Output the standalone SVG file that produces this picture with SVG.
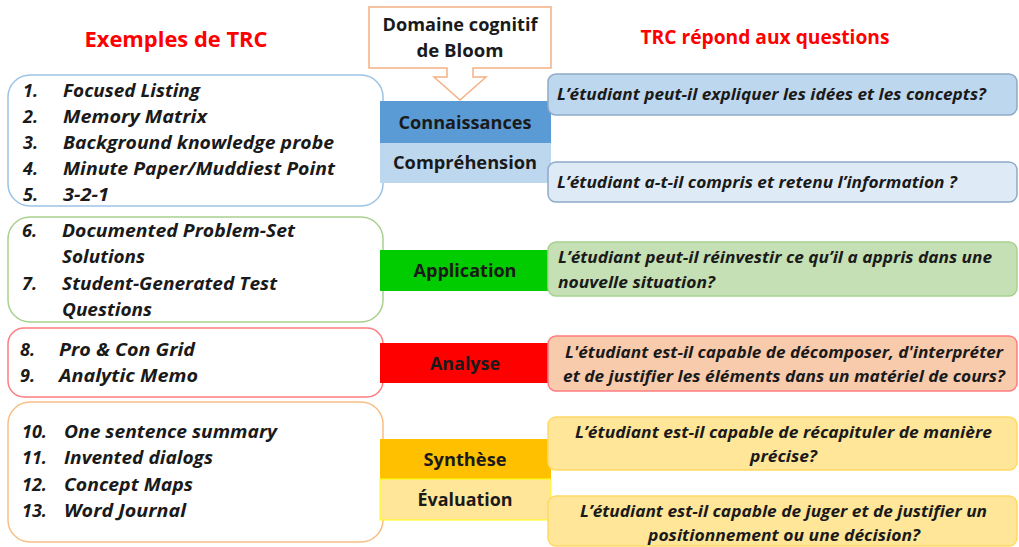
<svg xmlns="http://www.w3.org/2000/svg" width="1019" height="547" viewBox="0 0 1019 547">
<style>
.title{font-family:"Open Sans","Liberation Sans",sans-serif;font-weight:700;fill:#FF0000;text-anchor:middle}
.item{font-family:"Open Sans","Liberation Sans",sans-serif;font-weight:700;font-style:italic;font-size:18px;fill:#1a1a1a}
.bar{font-family:"Open Sans","Liberation Sans",sans-serif;font-weight:700;font-size:18px;fill:#1a1a1a;text-anchor:middle}
.q{font-family:"Open Sans","Liberation Sans",sans-serif;font-weight:700;font-style:italic;font-size:16px;fill:#1a1a1a}
.lbox{fill:#FFFFFF;stroke-width:1.5}
.rbox{stroke-width:1.5}
</style>
<rect width="1019" height="547" fill="#FFFFFF"/>

<text class="title" x="176" y="47" font-size="22" textLength="183" lengthAdjust="spacingAndGlyphs">Exemples de TRC</text>
<text class="title" x="765" y="44" font-size="19.5" textLength="249" lengthAdjust="spacingAndGlyphs">TRC répond aux questions</text>

<g id="bloom-callout">
<path d="M369,7 H551 V68 H473 V77 H486 L460,100 L434,77 H447 V68 H369 Z" fill="#FFFFFF" stroke="#F4B183" stroke-width="1.5"/>
<text class="bar" x="460" y="31" textLength="155" lengthAdjust="spacingAndGlyphs">Domaine cognitif</text>
<text class="bar" x="460" y="57" textLength="87" lengthAdjust="spacingAndGlyphs">de Bloom</text>
</g>

<g id="list-knowledge">
<rect class="lbox" x="8" y="75" width="375" height="131" rx="22" stroke="#9DC3E6"/>
<text class="item" x="23" y="97">1.</text><text class="item" x="63" y="97" textLength="137" lengthAdjust="spacingAndGlyphs">Focused Listing</text>
<text class="item" x="23" y="123">2.</text><text class="item" x="63" y="123" textLength="144" lengthAdjust="spacingAndGlyphs">Memory Matrix</text>
<text class="item" x="23" y="149">3.</text><text class="item" x="63" y="149" textLength="271" lengthAdjust="spacingAndGlyphs">Background knowledge probe</text>
<text class="item" x="23" y="175">4.</text><text class="item" x="63" y="175" textLength="272" lengthAdjust="spacingAndGlyphs">Minute Paper/Muddiest Point</text>
<text class="item" x="23" y="201">5.</text><text class="item" x="63" y="201" textLength="46" lengthAdjust="spacingAndGlyphs">3-2-1</text>
</g>

<g id="list-application">
<rect class="lbox" x="8" y="217" width="375" height="105" rx="22" stroke="#A9D18E"/>
<text class="item" x="22" y="237">6.</text><text class="item" x="62" y="237" textLength="233" lengthAdjust="spacingAndGlyphs">Documented Problem-Set</text>
<text class="item" x="62" y="263" textLength="83" lengthAdjust="spacingAndGlyphs">Solutions</text>
<text class="item" x="22" y="290">7.</text><text class="item" x="62" y="290" textLength="215" lengthAdjust="spacingAndGlyphs">Student-Generated Test</text>
<text class="item" x="62" y="316" textLength="90" lengthAdjust="spacingAndGlyphs">Questions</text>
</g>

<g id="list-analyse">
<rect class="lbox" x="8" y="328" width="375" height="69" rx="16" stroke="#FF7C80"/>
<text class="item" x="20" y="356">8.</text><text class="item" x="59" y="356" textLength="136" lengthAdjust="spacingAndGlyphs">Pro &amp; Con Grid</text>
<text class="item" x="20" y="382">9.</text><text class="item" x="59" y="382" textLength="139" lengthAdjust="spacingAndGlyphs">Analytic Memo</text>
</g>

<g id="list-synthese">
<rect class="lbox" x="8" y="402" width="375" height="140" rx="22" stroke="#F9BE84"/>
<text class="item" x="22" y="438">10.</text><text class="item" x="64" y="438" textLength="213" lengthAdjust="spacingAndGlyphs">One sentence summary</text>
<text class="item" x="22" y="464">11.</text><text class="item" x="64" y="464" textLength="149" lengthAdjust="spacingAndGlyphs">Invented dialogs</text>
<text class="item" x="22" y="491">12.</text><text class="item" x="64" y="491" textLength="129" lengthAdjust="spacingAndGlyphs">Concept Maps</text>
<text class="item" x="22" y="517">13.</text><text class="item" x="64" y="517" textLength="122" lengthAdjust="spacingAndGlyphs">Word Journal</text>
</g>

<g id="bar-connaissances">
<rect x="380" y="101" width="171" height="42" fill="#5B9BD5"/>
<text class="bar" x="465" y="129" textLength="133" lengthAdjust="spacingAndGlyphs">Connaissances</text>
</g>
<g id="bar-comprehension">
<rect x="380" y="143" width="171" height="40" fill="#BDD7EE"/>
<text class="bar" x="465" y="169" textLength="144" lengthAdjust="spacingAndGlyphs">Compréhension</text>
</g>
<g id="bar-application">
<rect x="380" y="250" width="170" height="41" fill="#00CC00"/>
<text class="bar" x="465" y="277" textLength="103" lengthAdjust="spacingAndGlyphs">Application</text>
</g>
<g id="bar-analyse">
<rect x="380" y="343" width="170" height="40" fill="#FF0000"/>
<text class="bar" x="465" y="370" textLength="70" lengthAdjust="spacingAndGlyphs">Analyse</text>
</g>
<g id="bar-synthese">
<rect x="380" y="439" width="171" height="40" fill="#FFC000"/>
<text class="bar" x="465" y="466" textLength="83" lengthAdjust="spacingAndGlyphs">Synthèse</text>
</g>
<g id="bar-evaluation">
<rect x="380" y="479" width="171" height="41" fill="#FFE699" stroke="#FFFF00" stroke-width="1"/>
<text class="bar" x="465" y="506" textLength="95" lengthAdjust="spacingAndGlyphs">Évaluation</text>
</g>

<g id="q-connaissances">
<rect class="rbox" x="548" y="74" width="469" height="41" rx="8" fill="#BDD7EE" stroke="#8EA9C9"/>
<text class="q" x="557" y="100" textLength="429" lengthAdjust="spacingAndGlyphs">L’étudiant peut-il expliquer les idées et les concepts?</text>
</g>
<g id="q-comprehension">
<rect class="rbox" x="548" y="162" width="469" height="40" rx="8" fill="#DEEBF7" stroke="#8EA9C9"/>
<text class="q" x="557" y="188" textLength="400" lengthAdjust="spacingAndGlyphs">L’étudiant a-t-il compris et retenu l’information ?</text>
</g>
<g id="q-application">
<rect class="rbox" x="548" y="242" width="469" height="54" rx="8" fill="#C5E0B4" stroke="#A9D18E"/>
<text class="q" x="558" y="263" textLength="434" lengthAdjust="spacingAndGlyphs">L’étudiant peut-il réinvestir ce qu’il a appris dans une</text>
<text class="q" x="558" y="288" textLength="157" lengthAdjust="spacingAndGlyphs">nouvelle situation?</text>
</g>
<g id="q-analyse">
<rect class="rbox" x="548" y="336" width="469" height="55" rx="8" fill="#F8CBAD" stroke="#FF7C80"/>
<text class="q" x="565" y="358" textLength="438" lengthAdjust="spacingAndGlyphs">L'étudiant est-il capable de décomposer, d'interpréter</text>
<text class="q" x="563" y="382" textLength="442" lengthAdjust="spacingAndGlyphs">et de justifier les éléments dans un matériel de cours?</text>
</g>
<g id="q-synthese">
<rect class="rbox" x="548" y="417" width="469" height="53" rx="8" fill="#FFE699" stroke="#FFD966"/>
<text class="q" x="575" y="438" textLength="417" lengthAdjust="spacingAndGlyphs">L’étudiant est-il capable de  récapituler de manière</text>
<text class="q" x="750" y="462" textLength="67" lengthAdjust="spacingAndGlyphs">précise?</text>
</g>
<g id="q-evaluation">
<rect class="rbox" x="548" y="496" width="469" height="50" rx="8" fill="#FFE699" stroke="#FFD966"/>
<text class="q" x="580" y="517" textLength="407" lengthAdjust="spacingAndGlyphs">L’étudiant est-il capable de juger et de justifier un</text>
<text class="q" x="648" y="541" textLength="272" lengthAdjust="spacingAndGlyphs">positionnement ou une décision?</text>
</g>

<g id="connectors"/>
</svg>
